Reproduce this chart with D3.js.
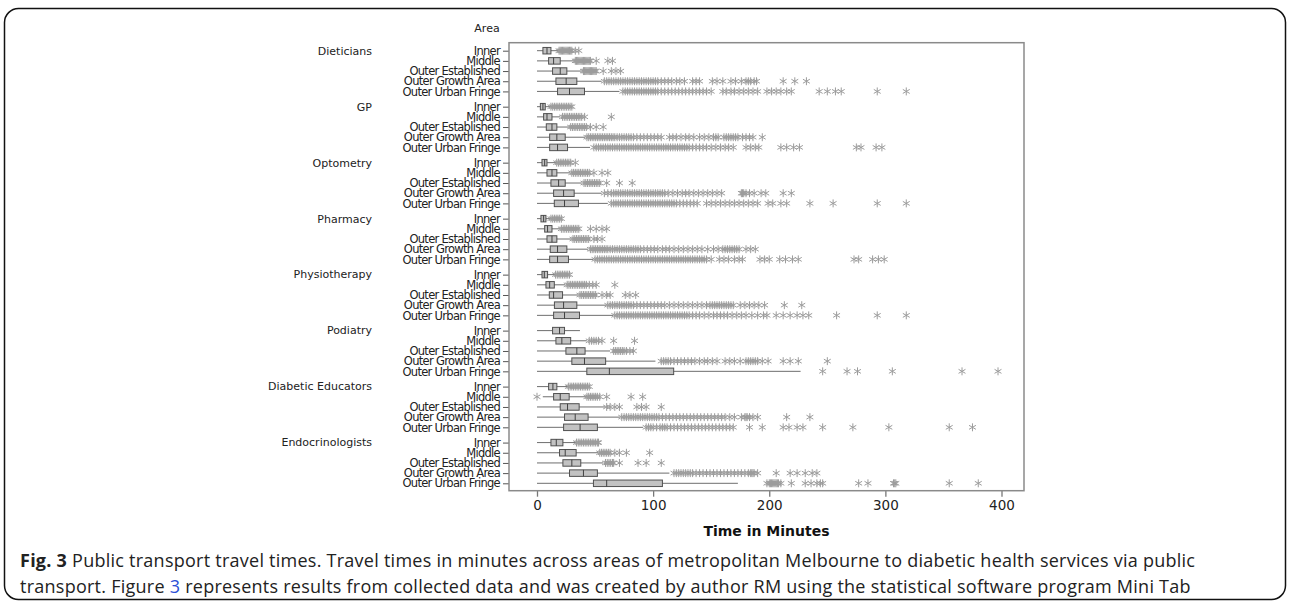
<!DOCTYPE html>
<html>
<head>
<meta charset="utf-8">
<script src="https://cdn.jsdelivr.net/npm/d3@7"></script>
<style>
  body { margin: 0; background: #fff; }
</style>
</head>
<body>
<div id="chart"></div>
<script>
// services (groups) and areas (rows inside each group)
const services = ["Dieticians", "GP", "Optometry", "Pharmacy", "Physiotherapy", "Podiatry", "Diabetic Educators", "Endocrinologists"];
const areas = ["Inner", "Middle", "Outer Established", "Outer Growth Area", "Outer Urban Fringe"];
const xTicks = [0, 100, 200, 300, 400];

// box statistics, one value per row (service x area)
const whiskerLow = [
  0, 0, 0, 0, 0,
  0, 0, 0, 0, 0,
  0, 0, 0, 0, 0,
  0, 0, 0, 0, 0,
  0, 0, 0, 0, 0,
  0, 0, 0, 0, 0,
  0, 5, 0, 0, 0,
  0, 0, 0, 0, 0
];
const q1 = [
  5.1, 10, 13.4, 16.3, 17.7,
  2.9, 5.7, 8, 10.9, 10.9,
  4.3, 8.6, 12, 14.3, 14.9,
  3.4, 6.6, 8.6, 11.4, 10.9,
  4.3, 7.7, 10.6, 15, 14.3,
  13.4, 16.3, 24.9, 30, 42.9,
  10, 14.3, 20, 23.7, 22.9,
  12, 19.4, 22.3, 28, 48.6
];
const median = [
  8.6, 14.3, 20, 25.1, 28,
  5.1, 8.6, 12.9, 17.1, 17.7,
  6.6, 12.9, 18.6, 22.9, 23.7,
  5.7, 9.1, 12.9, 17.7, 17.7,
  6.3, 10.9, 14.3, 22.9, 23.7,
  19.4, 21.4, 34.3, 40.9, 62.3,
  13.7, 20, 26.3, 32.9, 37.1,
  16.6, 24.3, 30, 40, 60
];
const q3 = [
  12, 20, 25.7, 34.3, 40.9,
  7.1, 12.9, 17.1, 24.3, 26.3,
  8.6, 17.1, 24.3, 32, 35.7,
  7.7, 12.9, 17.1, 25.7, 27.1,
  9.1, 14.9, 22, 34.3, 36.6,
  23.7, 29, 41.4, 59.1, 117.7,
  17.1, 27.7, 36.3, 44, 52,
  22.3, 33.7, 37.7, 52, 108
];
const whiskerHigh = [
  18.6, 32.9, 38.6, 55.7, 71,
  11.4, 20, 28.6, 41.4, 45.7,
  17, 28.6, 38.6, 55.7, 61,
  11.4, 20, 30, 44, 48.6,
  15.7, 24.3, 35.7, 60, 65.7,
  37, 42.9, 62.9, 102, 227,
  27, 42.9, 58.6, 71.4, 91.4,
  33.7, 52.9, 57, 114, 173
];

// outliers (asterisks), one list per row
const outliers = [
  // Dieticians
  [19,20,21,22,23,24,25,26,27,28,29,30,33,36],
  [33,34,35,36,37,38,39,40,41,42,43,44,45,46,51,61,65],
  [40,41,42,43,44,45,46,47,48,49,50,51,57,64,68,72],
  [58,60,62,64,66,68,70,72,74,76,78,80,82,84,86,88,90,92,94,96,98,100,102,104,107,110,113,116,120,123,127,134,137,140,151,155,160,167,171,176,180,182,184,187,189,212,222,232],
  [74,76,78,80,82,84,86,88,90,92,94,96,98,100,102,104,107,110,113,116,119,122,125,128,131,134,137,140,143,146,150,160,163,167,170,174,178,182,186,190,198,202,206,210,215,219,243,250,257,262,293,318],
  // GP
  [12,13.5,15,16.5,18,19.5,21,22.5,24,25.5,27,28.5,30],
  [22,23.5,25,26.5,28,29.5,31,32.5,34,35.5,37,38.5,41,64],
  [29,30.5,32,33.5,35,36.5,38,39.5,41,42.5,46,51,57],
  [43,44.5,46,47.5,49,50.5,52,53.5,55,56.5,58,59.5,61,62.5,64,65.5,67,69,71,73,75,77,79,81,83,86,89,92,95,98,101,104,107,114,117,120,124,128,131,135,140,144,148,152,154,156,161,163,165,167,169,171,173,177,180,183,186,194],
  [49,51,53,55,57,59,61,63,65,67,69,71,73,75,77,79,81,83,85,87,89,91,93,95,97,99,101,103,105,107,109,111,113,115,117,119,121,123,125,127,129,131,134,137,140,143,146,150,154,158,162,165,169,180,184,188,191,210,215,221,226,275,279,292,297],
  // Optometry
  [17,18.5,20,21.5,23,24.5,26,27.5,29,33],
  [30,31.5,33,34.5,36,37.5,39,40.5,42,43.5,45,49,56,61],
  [40.5,42,43.5,45,46.5,48,49.5,51,52.5,54,60,71,82],
  [58,61,64,66,68,70,72,74,76,78,80,82,84,86,88,90,92,94,96,98,100,102,104,106,108,110,113,117,121,125,128,131,135,139,143,147,151,155,159,176,177,178,180,183,187,193,197,212,219],
  [64,66,68,70,72,74,76,78,80,82,84,86,88,90,92,94,96,98,100,102,104,106,108,110,112,114,116,118,120,123,126,129,132,135,138,146,150,154,158,162,166,170,174,178,182,186,190,199,203,210,215,235,255,293,318],
  // Pharmacy
  [12,13.5,15,16.5,18,19.5,21],
  [21,22.5,24,25.5,27,28.5,30,31.5,33,34.5,36,46,51,56,60],
  [31,32.5,34,35.5,37,38.5,40,41.5,43,44.5,49,52,56],
  [46,47.5,49,50.5,52,53.5,55,56.5,58,59.5,61,63,65,67,69,71,73,75,77,79,81,83,85,87,89,92,95,98,101,104,108,111,114,118,122,126,130,134,138,142,147,152,156,160,162,164,166,168,170,172,174,180,184,188],
  [50,52,54,56,58,60,62,64,66,68,70,72,74,76,78,80,82,84,86,88,90,92,94,96,98,100,102,104,106,108,110,112,114,116,118,120,122,124,126,128,130,132,134,136,138,140,142,144,146,150,157,161,165,170,174,177,192,196,200,209,214,220,225,273,277,289,294,299],
  // Physiotherapy
  [16,17.5,19,20.5,22,23.5,25,26.5,28],
  [26,27.5,29,30.5,32,33.5,35,36.5,38,39.5,41,42.5,45,48,51,67],
  [37,38.5,40,41.5,43,44.5,46,47.5,49,50.5,56,60,63,76,80,85],
  [61,63,65,67,69,71,73,75,77,79,81,83,86,89,92,95,98,101,104,107,110,114,118,122,126,130,134,138,142,146,149,151,153,155,157,159,161,163,165,167,169,175,179,183,187,191,196,213,228],
  [67,69,71,73,75,77,79,81,83,85,87,89,91,93,95,97,99,101,103,105,107,109,111,113,115,117,119,121,123,125,127,129,131,134,137,140,144,148,152,155,158,161,164,168,172,176,180,185,190,195,198,206,212,218,224,229,234,258,293,318],
  // Podiatry
  [],
  [45,47,49,51,53,56,66,84],
  [66,67.5,69,70.5,72,73.5,75,77,80,83],
  [107,109,111,113,115,118,121,124,127,130,133,136,140,144,147,151,155,162,166,170,175,180,182,184,186,188,190,194,199,212,218,225,250],
  [246,267,276,306,366,397],
  // Diabetic Educators
  [27,28.5,30,31.5,33,34.5,36,37.5,39,40.5,42,43.5,45],
  [0,43,44.5,46,47.5,49,50.5,52,54,60,81,91],
  [60,63,67,71,86,90,94,107],
  [73,75,77,79,81,83,85,87,89,91,93,95,97,99,101,103,105,108,111,114,117,120,123,126,129,132,135,138,141,144,147,150,153,156,159,162,166,170,176,179,180,181,183,186,190,215,235],
  [94,96,98,100,103,106,108,110,112,115,118,121,124,127,130,133,136,139,142,145,148,151,154,157,160,163,166,169,183,194,212,217,224,229,246,272,303,355,375],
  // Endocrinologists
  [34,35.5,37,38.5,40,41.5,43,44.5,46,47.5,49,50.5,52,53],
  [54,55.5,57,58.5,60,61.5,63,67,71,77,97],
  [59,60.5,62,63.5,65,66,71,87,94,107],
  [118,120,122,124,126,128,130,132,134,137,140,143,146,149,152,155,158,161,164,167,170,173,176,179,182,184,185,186,187,190,206,218,224,231,237,241],
  [198,200,201,202,203,204,205,206,207,208,210,219,231,236,241,244,246,277,285,307,308,309,355,380]
];

class GroupedBoxPlot {

  constructor(_config) {
    this.config = {
      parentElement: _config.parentElement,
      containerWidth: 1290,
      containerHeight: 607,
      plot: {left: 509, right: 1024, top: 42.7, bottom: 490.7}
    };
    this.initVis();
  }

  initVis() {
    let vis = this;

    vis.svg = d3.select(vis.config.parentElement).append('svg')
        .attr('width', vis.config.containerWidth)
        .attr('height', vis.config.containerHeight)
        .style('font-family', '"DejaVu Sans", Verdana, sans-serif');

    // rounded frame round the whole figure
    vis.svg.append('rect')
        .attr('x', 4.5).attr('y', 8.5)
        .attr('width', 1281).attr('height', 591)
        .attr('rx', 14)
        .attr('fill', 'none')
        .attr('stroke', '#111')
        .attr('stroke-width', 1.5);

    // each service takes 5 rows plus half a row of gap
    vis.rows = [];
    services.forEach((s, g) => {
      areas.forEach((a, r) => {
        vis.rows.push({service: s, area: a, slot: g * 5.5 + r, i: g * 5 + r});
      });
    });

    vis.xScale = d3.scaleLinear().domain([0, 400]).range([537, 1001.5]);
    vis.yScale = d3.scaleLinear().domain([0, 42.5]).range([50.7, 483.3]);

    vis.renderVis();
  }

  renderVis() {
    let vis = this;
    const p = vis.config.plot;

    // y axis with area labels
    const yAxis = d3.axisLeft(vis.yScale)
        .tickValues(vis.rows.map(d => d.slot))
        .tickFormat((d, i) => vis.rows[i].area)
        .tickSize(6)
        .tickPadding(3);

    const yG = vis.svg.append('g')
        .attr('transform', `translate(${p.left},0)`)
        .call(yAxis);
    yG.select('.domain').remove();
    yG.selectAll('line').attr('stroke', '#555');
    yG.selectAll('text')
        .attr('fill', '#222')
        .style('font-family', '"DejaVu Sans", Verdana, sans-serif')
        .style('font-size', '11.5px')
        .style('letter-spacing', '-0.7px');

    // service names
    vis.svg.selectAll('.service')
        .data(services)
      .join('text')
        .attr('class', 'service')
        .attr('x', 372)
        .attr('y', (d, g) => vis.yScale(g * 5.5))
        .attr('dy', '0.35em')
        .attr('text-anchor', 'end')
        .attr('fill', '#222')
        .style('font-size', '11px')
        .text(d => d);

    vis.svg.append('text')
        .attr('x', 487).attr('y', 32)
        .attr('text-anchor', 'middle')
        .attr('fill', '#222')
        .style('font-size', '11px')
        .text('Area');

    // x axis
    const xAxis = d3.axisBottom(vis.xScale)
        .tickValues(xTicks)
        .tickSize(6)
        .tickPadding(4);
    const xG = vis.svg.append('g')
        .attr('transform', `translate(0,${p.bottom})`)
        .call(xAxis);
    xG.select('.domain').remove();
    xG.selectAll('line').attr('stroke', '#777').attr('stroke-width', 1.3);
    xG.selectAll('text')
        .attr('fill', '#222')
        .style('font-family', '"DejaVu Sans", Verdana, sans-serif')
        .style('font-size', '13.5px');

    vis.svg.append('text')
        .attr('x', (p.left + p.right) / 2)
        .attr('y', 536)
        .attr('text-anchor', 'middle')
        .attr('fill', '#111')
        .style('font-size', '14px')
        .style('font-weight', 'bold')
        .text('Time in Minutes');

    // plot frame
    vis.svg.append('rect')
        .attr('x', p.left).attr('y', p.top)
        .attr('width', p.right - p.left).attr('height', p.bottom - p.top)
        .attr('fill', 'none')
        .attr('stroke', '#8a8a8a')
        .attr('stroke-width', 1.5);

    const chart = vis.svg.append('g');
    const bh = 6.5;

    const rowG = chart.selectAll('.row')
        .data(vis.rows)
      .join('g')
        .attr('class', 'row')
        .attr('transform', d => `translate(0,${vis.yScale(d.slot)})`);

    // whiskers
    rowG.append('line')
        .attr('x1', d => vis.xScale(whiskerLow[d.i]))
        .attr('x2', d => vis.xScale(whiskerHigh[d.i]))
        .attr('stroke', '#6e6e6e')
        .attr('stroke-width', 1);

    // outlier asterisks
    const star = d3.symbol().type(d3.symbolAsterisk).size(44)();
    rowG.selectAll('.out')
        .data(d => outliers[d.i])
      .join('path')
        .attr('class', 'out')
        .attr('d', star)
        .attr('transform', v => `translate(${vis.xScale(v)},0)`)
        .attr('fill', 'none')
        .attr('stroke', '#9c9c9c')
        .attr('stroke-width', 1);

    // boxes
    rowG.append('rect')
        .attr('x', d => vis.xScale(q1[d.i]))
        .attr('y', -bh / 2)
        .attr('width', d => vis.xScale(q3[d.i]) - vis.xScale(q1[d.i]))
        .attr('height', bh)
        .attr('fill', '#c2c2c2')
        .attr('stroke', '#505050')
        .attr('stroke-width', 1);

    rowG.append('line')
        .attr('x1', d => vis.xScale(median[d.i]))
        .attr('x2', d => vis.xScale(median[d.i]))
        .attr('y1', -bh / 2).attr('y2', bh / 2)
        .attr('stroke', '#404040')
        .attr('stroke-width', 1);

    // caption
    const capStyle = sel => sel
        .attr('fill', '#222')
        .style('font-family', '"Open Sans", sans-serif')
        .style('font-size', '18px')
        .style('letter-spacing', '0.25px');

    const cap = vis.svg.append('text').attr('x', 20).attr('y', 567).call(capStyle);
    cap.append('tspan').style('font-weight', 'bold').text('Fig. 3');
    cap.append('tspan').text(' Public transport travel times. Travel times in minutes across areas of metropolitan Melbourne to diabetic health services via public');

    const cap2 = vis.svg.append('text').attr('x', 20).attr('y', 593).call(capStyle);
    cap2.append('tspan').text('transport. Figure ');
    cap2.append('tspan').attr('fill', '#2b50d6').text('3');
    cap2.append('tspan').text(' represents results from collected data and was created by author RM using the statistical software program Mini Tab');
  }
}

new GroupedBoxPlot({parentElement: '#chart'});
</script>
</body>
</html>
